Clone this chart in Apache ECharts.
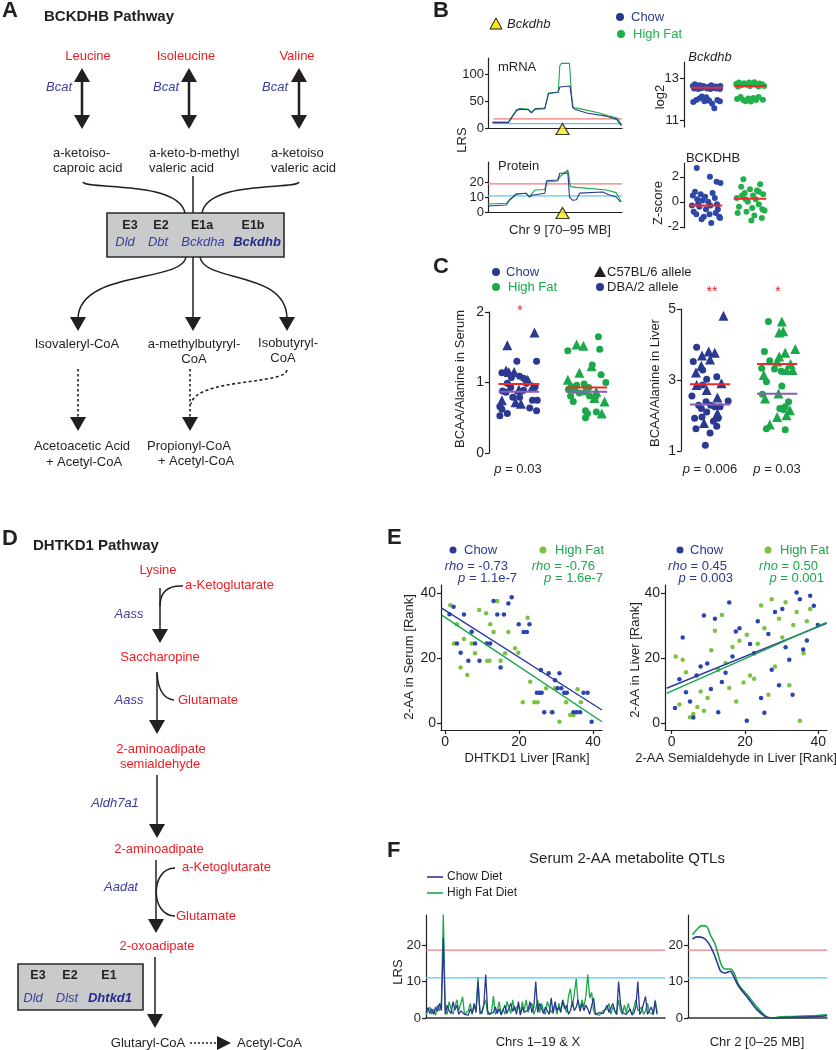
<!DOCTYPE html>
<html><head><meta charset="utf-8">
<script src="https://cdn.jsdelivr.net/npm/echarts@6/dist/echarts.min.js"></script>
<style>html,body{margin:0;padding:0;background:#fff}#c{width:836px;height:1050px}</style>
</head><body><div id="c"></div>
<script>
// ---------------- DATA ----------------
// Panel B: LRS curves on Chr 9 (MB, LRS)
const mrnaChow = [[70.8,10],[73.8,10],[75.3,32],[75.9,35],[77.5,34],[78.1,28],[78.8,35],[80.6,36],[81.3,64],[83.1,67],[83.4,76],[85.3,78],[85.8,38],[86.2,35],[86.5,32],[88.4,28],[92.1,22],[94.0,16],[94.9,4]];
const mrnaHF = [[70.8,11],[73.8,11],[75.3,34],[75.9,36],[77.5,35],[78.1,29],[78.8,36],[80.6,37],[81.3,65],[83.1,66],[83.4,116],[83.7,120],[85.2,120],[85.6,60],[85.9,38],[87.1,36],[90.8,28],[92.7,22],[94.2,18],[94.9,6]];
const mrnaThresholds = [17, 8];           // significant, suggestive
const protChow = [[70,4],[73.4,4.7],[74,8],[75.3,12],[77.1,12.5],[77.7,10],[78.4,11.3],[80.6,12.5],[81,21],[83,21.3],[83.4,25.8],[84.9,26],[85.2,10],[85.8,7.8],[86.5,8.2],[87.1,12.6],[91.4,13.3],[92.4,11.7],[93.9,10],[94.7,6.7]];
const protHF = [[70,5.3],[73.4,5.8],[75.3,12],[77.1,12.5],[77.7,10.2],[78.8,14.7],[80.6,15],[80.9,20],[83,20.6],[83.4,23.5],[84.9,28],[85.4,16.9],[86.5,16.4],[92.1,14.7],[93.9,12.9],[94.9,6.7]];
const protThresholds = [18.7, 10.7];
const bckdhbLocusMB = [83.9];
const groupCenters = [1, 2];              // Chow, High Fat
const log2Chow = [[-0.33,12.62],[-0.28,12.70],[-0.22,12.55],[-0.17,12.65],[-0.12,12.52],[-0.06,12.60],[0.0,12.50],[0.05,12.58],[0.1,12.65],[0.15,12.52],[0.2,12.60],[0.26,12.55],[0.31,12.62],[-0.3,12.5],[-0.2,12.48],[0.08,12.48],[0.22,12.5],[0.3,12.48],[-0.1,12.62],[0.12,12.58],[-0.32,11.86],[-0.25,11.95],[-0.18,12.02],[-0.12,12.12],[-0.06,11.9],[0.0,12.0],[0.05,11.92],[0.12,11.78],[0.17,11.56],[0.24,11.95],[0.3,11.9],[-0.02,12.08]];
const log2HF = [[-0.32,12.72],[-0.26,12.78],[-0.2,12.65],[-0.14,12.75],[-0.08,12.68],[-0.02,12.78],[0.04,12.7],[0.1,12.8],[0.16,12.66],[0.22,12.74],[0.28,12.7],[0.33,12.62],[-0.28,12.6],[0.0,12.62],[0.2,12.6],[-0.3,12.0],[-0.22,12.1],[-0.16,11.95],[-0.1,11.9],[-0.04,12.02],[0.02,11.88],[0.08,12.05],[0.14,11.95],[0.2,12.1],[0.3,11.96]];
const log2Medians = [12.54, 12.62];
const zChow = [[-0.3,0.5],[-0.25,0.8],[-0.2,0.2],[-0.32,-0.3],[-0.28,-0.8],[-0.22,-1.0],[-0.15,-0.4],[-0.12,0.6],[-0.08,0.1],[-0.05,-1.2],[0.0,-0.6],[-0.21,2.7],[0.05,0.0],[0.1,-0.3],[0.12,-1.7],[0.15,0.7],[0.09,2.0],[0.22,-0.9],[0.25,-0.2],[0.24,1.6],[0.3,-1.2],[0.33,1.5],[-0.1,-1.4],[0.2,0.3],[-0.18,-0.2],[0.08,-1.0],[0.27,-0.6],[0.32,-1.3],[-0.02,0.4]];
const zHF = [[-0.3,0.3],[-0.25,-0.4],[-0.2,1.2],[-0.15,1.8],[-0.12,0.7],[-0.08,-0.8],[-0.05,0.0],[0.0,1.0],[0.03,-1.5],[0.07,0.5],[0.1,-1.1],[0.13,0.2],[0.16,0.9],[0.2,-0.2],[0.23,1.4],[0.27,-1.3],[0.3,0.6],[0.33,-0.7],[-0.28,-0.9],[-0.18,0.5],[0.05,-0.5],[0.2,0.8],[0.28,-0.6],[-0.1,0.2]];
const zMedians = [-0.3, 0.25];

// Panel C: BCAA/Alanine ([offset from group centre, value])
const serumChowTri = [[-0.17,1.53],[0.23,1.71],[-0.19,1.17],[-0.07,1.15],[-0.25,0.75],[0.0,0.90],[-0.05,0.72],[0.03,0.70],[0.13,1.04],[0.20,0.94],[-0.15,1.15]];
const serumChowDot = [[-0.03,1.30],[0.26,1.30],[-0.25,1.14],[-0.11,1.07],[0.01,1.09],[0.07,1.06],[-0.17,0.99],[0.11,0.99],[-0.12,0.93],[-0.24,0.88],[-0.19,0.86],[0.07,0.89],[0.20,0.75],[0.27,0.75],[-0.28,0.66],[-0.25,0.62],[-0.17,0.56],[-0.28,0.53],[0.16,0.64],[0.26,0.60],[0.01,0.79],[-0.09,0.79],[0.24,0.94]];
const serumHFTri = [[-0.15,1.54],[-0.05,1.52],[-0.28,1.04],[-0.11,1.14],[0.07,1.23],[0.14,0.87],[0.11,0.78],[0.26,0.73],[0.22,0.56],[-0.03,0.89]];
const serumHFDot = [[-0.28,1.45],[0.17,1.65],[0.19,1.47],[0.08,1.25],[0.21,1.11],[0.28,1.00],[-0.23,0.94],[-0.15,0.96],[-0.04,0.98],[0.03,0.93],[-0.27,0.90],[-0.18,0.89],[-0.11,0.85],[-0.24,0.81],[-0.20,0.73],[0.04,0.81],[0.13,0.80],[-0.02,0.60],[0.01,0.56],[-0.02,0.50],[0.14,0.58]];
const serumRedMedian = [0.98, 0.93];
const serumPurpleMedian = [0.87, 0.87];
const liverChowTri = [[0.20,4.81],[-0.02,3.80],[0.07,3.77],[-0.12,3.69],[0.0,3.58],[-0.13,3.40],[-0.21,3.21],[-0.20,2.86],[-0.05,2.72],[0.11,2.51],[0.17,2.91],[-0.09,1.79],[0.11,2.06]];
const liverChowDot = [[-0.20,3.92],[-0.25,3.52],[-0.11,3.28],[-0.05,3.02],[0.10,3.09],[-0.11,2.86],[-0.27,2.55],[-0.17,2.29],[-0.06,2.39],[0.01,2.29],[0.07,2.25],[0.27,2.41],[-0.13,2.20],[-0.05,2.10],[-0.23,1.92],[-0.12,1.96],[0.05,1.84],[0.12,1.92],[-0.21,1.63],[0.10,1.70],[0.0,1.51],[-0.07,1.16],[0.15,2.25]];
const liverHFTri = [[0.07,4.65],[0.03,4.34],[0.09,4.37],[0.12,3.77],[0.27,3.87],[0.03,3.66],[0.0,3.52],[0.20,3.45],[0.14,3.28],[0.23,3.28],[-0.20,3.14],[0.02,2.62],[-0.18,2.48],[0.14,2.01],[0.0,1.96],[-0.11,1.75],[0.19,2.15]];
const liverHFDot = [[-0.13,4.65],[-0.19,3.80],[-0.11,3.54],[-0.23,3.33],[-0.04,3.31],[0.06,3.25],[-0.16,2.95],[0.07,2.83],[-0.22,2.60],[0.17,2.39],[0.04,2.20],[0.09,2.17],[0.12,2.25],[-0.16,1.63],[0.12,1.60]];
const liverRedMedian = [2.88, 3.45];
const liverPurpleMedian = [2.31, 2.61];

// Panel E: ranks
const eLeftChow = [[1.2,33.5],[2.3,35.8],[5.1,33.4],[3.2,24.5],[4.2,21.6],[6.3,19.2],[7.2,28.1],[8.1,24.5],[9.3,19.2],[11.3,24.5],[12.2,24.5],[13.1,37.6],[14.1,33.4],[15.0,17.1],[15.9,33.4],[17.1,36.8],[18.0,38.7],[19.9,30.4],[21.2,28],[22.1,28],[22.8,30.4],[25.9,16.3],[28.0,15.3],[29.7,13.2],[30.9,15.3],[32.2,9.3],[32.9,9.3],[24.8,9.3],[25.5,9.3],[26.1,9.3],[26.8,3.3],[29.0,3.3],[30.4,10.7],[31.4,10.7],[34.7,3.3],[35.6,3.3],[36.5,3.3],[37.4,9.3],[38.5,9.3],[39.6,0.4]];
const eLeftHF = [[1.4,36.3],[2.4,24.5],[3.2,30.4],[4.2,17.1],[5.1,25.9],[6.0,14.8],[7.2,24.5],[8.1,21.5],[9.2,34.8],[11.1,33.8],[11.4,19.2],[12.0,19.2],[12.2,30.4],[13.1,28],[14.1,37.6],[15.0,19.2],[16.2,21.5],[17.1,28],[18.9,23],[19.8,21.6],[22.3,32.4],[23.0,12.7],[21.0,6.4],[24.1,6.4],[25.0,6.4],[27.3,10.7],[28.8,3.3],[29.7,10.7],[30.9,0.4],[32.7,6.4],[33.8,2.5],[34.7,2.5],[35.8,10.4],[36.7,6.4]];
const eLeftChowFit = [[-0.9,35.4],[42.4,4.0]];
const eLeftHFFit = [[-0.9,33.2],[42.4,0.4]];
const eRightChow = [[0.9,4.6],[2.1,13.5],[3.0,26.3],[3.9,9.5],[5.0,6.6],[5.9,1.7],[6.8,14.6],[7.9,17.4],[8.8,33.1],[9.7,18.3],[10.7,10.5],[11.8,32.1],[12.7,3.3],[13.7,12.6],[14.7,15.5],[15.7,37.1],[16.6,20.5],[17.5,28.2],[18.5,29.2],[20.5,0.7],[21.4,24.3],[22.5,21.5],[23.5,31.3],[24.4,7.7],[25.3,3.2],[26.4,27.4],[27.3,16.4],[28.2,34.2],[29.3,11.6],[30.2,35.1],[31.1,23.3],[32.1,19.5],[33.0,8.7],[34.1,40.2],[35.0,38.1],[35.9,22.6],[36.9,25.4],[37.8,39.2],[38.8,36.1],[39.9,30.2]];
const eRightHF = [[1.1,20.5],[2.1,5.7],[3.0,19.5],[3.9,15.6],[5.0,1.8],[5.9,2.8],[7.0,4.9],[7.9,9.7],[8.8,3.8],[9.8,7.7],[10.8,22.4],[11.8,28.4],[12.7,16.4],[13.7,33.3],[14.7,18.5],[15.7,10.8],[16.6,23.4],[17.6,6.6],[18.5,25.3],[19.6,12.5],[20.5,27.2],[21.4,14.6],[22.5,13.6],[23.5,24.4],[24.4,36.2],[25.3,29.2],[26.4,8.7],[27.3,38.1],[28.2,17.4],[29.3,32.1],[30.2,26.3],[31.1,37.2],[32.1,11.6],[33.2,30.2],[34.1,34.2],[35.0,0.7],[36.0,21.5],[36.9,31.3],[37.8,35.1]];
const eRightChowFit = [[-1.4,10.7],[42.3,30.7]];
const eRightHFFit = [[-1.4,9.1],[42.3,31.0]];

// Panel F: genome-wide LRS (marker index along Chrs 1-19 & X) and Chr 2 (MB)
const genomeChow = [1.5,2.8,1.2,2.5,1.0,3.0,1.8,4.0,2.0,21.9,1.0,3.5,2.0,1.2,4.5,2.2,3.5,1.0,2.0,1.5,1.0,1.3,0.8,2.5,1.2,4.0,1.5,10.0,1.8,1.2,3.5,11.9,2.0,1.0,0.8,1.5,3.0,1.2,2.5,0.8,1.0,3.5,1.2,1.0,4.0,1.8,3.2,1.0,4.5,0.8,3.0,1.5,1.0,2.2,4.5,1.5,3.0,10.0,1.5,4.0,3.5,1.2,3.0,2.0,1.0,5.5,1.2,4.5,2.0,3.0,1.5,4.8,2.5,3.5,1.0,2.0,4.5,2.0,3.0,5.0,1.8,4.0,2.0,3.5,2.5,1.0,0.8,5.5,1.0,0.8,1.5,1.0,1.2,0.8,3.5,1.5,1.0,4.0,2.0,1.0,10.0,4.0,1.5,2.0,1.0,1.2,2.5,0.8,1.5,3.0,10.0,1.0,2.0,1.5,5.9,1.0,2.0,3.0,1.0,4.5,1.0];
const genomeHF = [0.8,2.0,3.0,1.0,2.5,0.8,3.5,2.0,4.5,28.3,2.0,1.0,4.5,2.5,1.0,3.0,5.0,2.0,1.5,5.8,1.0,0.8,2.0,4.0,1.0,3.5,2.0,11.2,1.0,2.0,1.5,5.0,1.0,0.5,1.5,6.0,1.0,2.0,4.5,1.0,2.5,1.0,4.5,3.0,1.2,5.0,2.0,1.5,3.5,1.0,4.5,2.0,5.0,1.5,3.0,4.0,1.0,2.5,5.0,1.5,4.0,2.0,1.0,4.5,3.0,1.5,2.0,3.5,1.0,4.0,2.0,5.0,3.0,1.5,6.0,8.0,3.0,6.5,10.7,4.0,2.5,5.0,3.0,6.0,11.9,5.5,7.0,2.0,1.0,1.5,0.8,1.0,2.0,1.5,2.5,4.0,1.0,3.0,2.5,1.0,5.0,2.0,1.0,3.5,1.5,4.0,2.0,1.0,3.0,5.0,2.0,1.5,3.0,1.0,2.0,4.0,1.5,2.0,1.0,5.0,1.5];
const chr2Chow = [[0.8,21.6],[1.6,22.2],[2.8,21.9],[3.7,20.5],[4.6,17.8],[5.3,15],[5.9,12.8],[6.7,12.3],[7.6,12.8],[8.2,11.4],[9.1,8.7],[10.6,5.8],[12.4,2.3],[14.2,0.2],[15.4,0],[19,0.2],[22,0.3],[25,0.6]];
const chr2HF = [[0.8,22.8],[1.9,24.7],[2.5,25.3],[3.4,25.0],[4.0,22.8],[4.9,20.1],[5.5,16.9],[6.1,14.2],[6.7,13.4],[7.6,13.4],[8.3,12.3],[9.1,9.1],[10.6,6.4],[12.4,3.0],[13.9,0.6],[14.8,0],[16.6,0.3],[19,0.4],[22,0.6],[25,0.9]];
const fThresholds = [18.6, 11.0];

// ---------------- STYLE ----------------
const FONT = '"Liberation Sans", Arial, Helvetica, sans-serif';
const INK = '#231f20';
const BLUE = '#2b3990', BLUE_DOT = '#2e46a6', GREEN = '#1aa84b', LGREEN = '#7cc242';
const RED = '#ee2b2b', PURPLE = '#8d5bb8', THR_RED = '#f07b7b', THR_BLUE = '#5cc8f0';
const TXT_RED = '#ed1c24', ENZ = '#3a3f9c';

function ax(grid, min, max, o) {
  o = o || {};
  return {
    gridIndex: grid, type: 'value', min: min, max: max, show: o.show !== false,
    axisLine: {show: true, onZero: false, lineStyle: {color: o.lineColor || INK, width: o.lw || 1.2}},
    axisTick: o.ticks ? {show: true, length: o.tickLen || 4, customValues: o.ticks, lineStyle: {color: INK, width: 1.2}} : {show: false},
    axisLabel: o.ticks ? {show: true, customValues: o.ticks, fontSize: o.fs || 13, fontFamily: FONT, color: INK, margin: o.margin || 6} : {show: false},
    splitLine: {show: false}
  };
}

const grids = [
  {left: 488, top: 58, width: 134, height: 70},   // 0 mRNA
  {left: 488, top: 162, width: 134, height: 50},  // 1 protein
  {left: 684, top: 62, width: 86, height: 65},    // 2 log2
  {left: 684, top: 163, width: 86, height: 65},   // 3 z-score
  {left: 489, top: 312, width: 125, height: 141}, // 4 serum
  {left: 681, top: 309, width: 125, height: 142}, // 5 liver
  {left: 441, top: 585, width: 161, height: 145}, // 6 E left
  {left: 665, top: 585, width: 162, height: 145}, // 7 E right
  {left: 426, top: 915, width: 239, height: 103}, // 8 F genome
  {left: 688, top: 915, width: 139, height: 103}  // 9 F chr2
];
const xAxes = [
  ax(0, 70, 95), ax(1, 70, 95),
  ax(2, 0.465, 2.465, {show: false}), ax(3, 0.5, 2.455, {show: false}),
  ax(4, 0.56, 2.4, {show: false}), ax(5, 0.567, 2.43, {show: false}),
  ax(6, -1.1, 42.4, {ticks: [0, 20, 40], fs: 14, margin: 5}),
  ax(7, -1.83, 42.4, {ticks: [0, 20, 40], fs: 14, margin: 5}),
  ax(8, 0, 124.1, {lw: 1.6, lineColor: '#333'}), ax(9, 0, 25, {lw: 1.6, lineColor: '#333'})
];
const yAxes = [
  ax(0, 0, 130, {ticks: [0, 50, 100], tickLen: 3, margin: 4}),
  ax(1, 0, 33.3, {ticks: [0, 10, 20], tickLen: 3, margin: 4}),
  ax(2, 10.67, 13.76, {ticks: [11, 13], tickLen: 4, margin: 5}),
  ax(3, -2.1, 3.1, {ticks: [-2, 0, 2], tickLen: 4, margin: 5}),
  ax(4, 0, 2, {ticks: [0, 1, 2], fs: 14, margin: 5}),
  ax(5, 1, 5, {ticks: [1, 3, 5], fs: 14, margin: 5}),
  ax(6, -2.15, 42.5, {ticks: [0, 20, 40], fs: 14, margin: 5}),
  ax(7, -2.15, 42.5, {ticks: [0, 20, 40], fs: 14, margin: 5}),
  ax(8, 0, 28.2, {ticks: [0, 10, 20], margin: 5}),
  ax(9, 0, 28.2, {ticks: [0, 10, 20], margin: 5})
];

const series = [];
function line(gi, data, color, width, extra) {
  series.push(Object.assign({type: 'line', xAxisIndex: gi, yAxisIndex: gi, data: data, symbol: 'none',
    lineStyle: {color: color, width: width}, z: 3, silent: true}, extra || {}));
}
function hline(gi, x0, x1, y, color, width, z) {
  line(gi, [[x0, y], [x1, y]], color, width, {z: z || 2});
}
function scat(gi, data, color, symbol, size, z) {
  series.push({type: 'scatter', xAxisIndex: gi, yAxisIndex: gi, data: data, symbol: symbol, symbolSize: size,
    itemStyle: {color: color, opacity: 1}, z: z || 4, silent: true});
}
function strip(arr, ci) { return arr.map(d => [groupCenters[ci] + d[0], d[1]]); }

// B: LRS panels
hline(0, 71, 95, mrnaThresholds[0], THR_RED, 1.2);
hline(0, 71, 95, mrnaThresholds[1], THR_BLUE, 1.2);
line(0, mrnaHF, GREEN, 1.1);
line(0, mrnaChow, BLUE, 1.1);
hline(1, 70, 95, protThresholds[0], THR_RED, 1.2);
hline(1, 70, 95, protThresholds[1], THR_BLUE, 1.2);
line(1, protHF, GREEN, 1.1);
line(1, protChow, BLUE, 1.1);
[0, 1].forEach(gi => series.push({type: 'scatter', xAxisIndex: gi, yAxisIndex: gi, data: bckdhbLocusMB.map(m => [m, 0]),
  symbol: 'triangle', symbolSize: [13, 11], symbolOffset: [0, 1], z: 6, silent: true,
  itemStyle: {color: '#f7e81c', borderColor: '#111', borderWidth: 1.2}}));
// B: expression strips
scat(2, strip(log2Chow, 0), BLUE_DOT, 'circle', 6);
scat(2, strip(log2HF, 1), '#22b04b', 'circle', 6);
log2Medians.forEach((m, i) => hline(2, groupCenters[i] - 0.37, groupCenters[i] + 0.37, m, RED, 2, 5));
scat(3, strip(zChow, 0), BLUE_DOT, 'circle', 6);
scat(3, strip(zHF, 1), '#22b04b', 'circle', 6);
zMedians.forEach((m, i) => hline(3, groupCenters[i] - 0.37, groupCenters[i] + 0.37, m, RED, 2, 5));
// C
scat(4, strip(serumChowDot, 0), BLUE, 'circle', 7);
scat(4, strip(serumChowTri, 0), BLUE, 'triangle', 10);
scat(4, strip(serumHFDot, 1), GREEN, 'circle', 7);
scat(4, strip(serumHFTri, 1), GREEN, 'triangle', 10);
serumPurpleMedian.forEach((m, i) => hline(4, groupCenters[i] - 0.3, groupCenters[i] + 0.3, m, PURPLE, 2, 5));
serumRedMedian.forEach((m, i) => hline(4, groupCenters[i] - 0.3, groupCenters[i] + 0.3, m, RED, 2, 5));
scat(5, strip(liverChowDot, 0), BLUE, 'circle', 7);
scat(5, strip(liverChowTri, 0), BLUE, 'triangle', 10);
scat(5, strip(liverHFDot, 1), GREEN, 'circle', 7);
scat(5, strip(liverHFTri, 1), GREEN, 'triangle', 10);
liverPurpleMedian.forEach((m, i) => hline(5, groupCenters[i] - 0.3, groupCenters[i] + 0.3, m, PURPLE, 2, 5));
liverRedMedian.forEach((m, i) => hline(5, groupCenters[i] - 0.3, groupCenters[i] + 0.3, m, RED, 2, 5));
// E
scat(6, eLeftHF, LGREEN, 'circle', 4.5);
scat(6, eLeftChow, '#2a44b0', 'circle', 4.5);
line(6, eLeftChowFit, '#2b3aa0', 1.4, {z: 5});
line(6, eLeftHFFit, '#13a44a', 1.4, {z: 5});
scat(7, eRightHF, LGREEN, 'circle', 4.5);
scat(7, eRightChow, '#2a44b0', 'circle', 4.5);
line(7, eRightChowFit, '#2b3aa0', 1.4, {z: 5});
line(7, eRightHFFit, '#13a44a', 1.4, {z: 5});
// F
hline(8, 0, 124.1, fThresholds[0], THR_RED, 1.2);
hline(8, 0, 124.1, fThresholds[1], THR_BLUE, 1.2);
line(8, genomeHF.map((v, i) => [i, v]), GREEN, 1.3);
line(8, genomeChow.map((v, i) => [i, v]), BLUE, 1.3, {z: 4});
hline(9, 0, 25, fThresholds[0], THR_RED, 1.2);
hline(9, 0, 25, fThresholds[1], THR_BLUE, 1.2);
line(9, chr2HF, GREEN, 1.6, {smooth: 0.35});
line(9, chr2Chow, BLUE, 1.6, {smooth: 0.35, z: 4});

// ---------------- GRAPHIC (pathways, labels, legends) ----------------
const G = [];
function T(x, y, text, o) {
  o = o || {};
  const fs = o.size || 13;
  const st = {text: text, fill: o.color || INK, fontSize: fs, fontFamily: FONT,
    fontWeight: o.bold ? 'bold' : 'normal', fontStyle: o.italic ? 'italic' : 'normal',
    align: o.align || 'left', verticalAlign: 'middle'};
  if (o.rich) st.rich = o.rich;
  G.push({type: 'text', x: x, y: y, rotation: o.rot || 0, z: 20, silent: true, style: st});
}
function L(x1, y1, x2, y2, o) {
  o = o || {};
  G.push({type: 'line', z: 15, silent: true, shape: {x1, y1, x2, y2},
    style: {stroke: o.color || INK, lineWidth: o.w || 1.5, lineDash: o.dash || null}});
}
function B(x1, y1, c1x, c1y, c2x, c2y, x2, y2, o) {
  o = o || {};
  G.push({type: 'bezierCurve', z: 15, silent: true,
    shape: {x1, y1, cpx1: c1x, cpy1: c1y, cpx2: c2x, cpy2: c2y, x2, y2},
    style: {stroke: o.color || INK, lineWidth: o.w || 1.5, fill: null, lineDash: o.dash || null}});
}
function P(points, fill, stroke) {
  G.push({type: 'polygon', z: 16, silent: true, shape: {points: points},
    style: {fill: fill || INK, stroke: stroke || null, lineWidth: stroke ? 1 : 0}});
}
function down(x, tip, hw, h) { hw = hw || 8; h = h || 14; P([[x - hw, tip - h], [x + hw, tip - h], [x, tip]]); }
function up(x, tip, hw, h) { hw = hw || 8; h = h || 14; P([[x - hw, tip + h], [x + hw, tip + h], [x, tip]]); }
function R(x, y, w, h) {
  G.push({type: 'rect', z: 12, silent: true, shape: {x, y, width: w, height: h},
    style: {fill: '#c9cacc', stroke: '#2a2a2a', lineWidth: 1.6}});
}
function C(cx, cy, r, fill) { G.push({type: 'circle', z: 20, silent: true, shape: {cx, cy, r}, style: {fill}}); }
function rich(color, size) {
  return {i: {fontStyle: 'italic', fontSize: size || 13, fontFamily: FONT, fill: color},
          n: {fontStyle: 'normal', fontSize: size || 13, fontFamily: FONT, fill: color}};
}

// Panel letters
[['A', 2, 11], ['B', 433, 11], ['C', 433, 267], ['D', 2, 539], ['E', 387, 538], ['F', 387, 851]]
  .forEach(d => T(d[1], d[2], d[0], {bold: true, size: 22}));

// ---- Panel A ----
T(44, 17, 'BCKDHB Pathway', {bold: true, size: 15});
[['Leucine', 88, 82, 59], ['Isoleucine', 186, 189, 166], ['Valine', 297, 299, 275]].forEach(d => {
  T(d[1], 56, d[0], {color: TXT_RED, align: 'center'});
  L(d[2], 78, d[2], 118, {w: 2.5});
  up(d[2], 68); down(d[2], 129);
  T(d[3], 87, 'Bcat', {color: ENZ, italic: true, align: 'center'});
});
T(53, 153, 'a-ketoiso-'); T(53, 168, 'caproic acid');
T(149, 153, 'a-keto-b-methyl'); T(149, 168, 'valeric acid');
T(271, 153, 'a-ketoiso'); T(271, 168, 'valeric acid');
B(83, 182, 85, 190, 178, 180, 185, 213);
L(193, 176, 193, 213);
B(299, 182, 297, 190, 208, 180, 202, 213);
R(107, 213, 177, 44);
T(130, 226, 'E3', {bold: true, align: 'center', size: 12.5});
T(161, 226, 'E2', {bold: true, align: 'center', size: 12.5});
T(202, 226, 'E1a', {bold: true, align: 'center', size: 12.5});
T(253, 226, 'E1b', {bold: true, align: 'center', size: 12.5});
T(125, 242, 'Dld', {italic: true, color: ENZ, align: 'center'});
T(158, 242, 'Dbt', {italic: true, color: ENZ, align: 'center'});
T(203, 242, 'Bckdha', {italic: true, color: ENZ, align: 'center'});
T(257, 242, 'Bckdhb', {italic: true, bold: true, color: '#26298a', align: 'center'});
B(186, 257, 182, 283, 80, 270, 78, 318);
L(193, 257, 193, 318);
B(200, 257, 204, 283, 286, 270, 287, 318);
down(78, 331); down(193, 331); down(287, 331);
T(77, 344, 'Isovaleryl-CoA', {align: 'center'});
T(194, 344, 'a-methylbutyryl-', {align: 'center'});
T(194, 359, 'CoA', {align: 'center'});
T(288, 343, 'Isobutyryl-', {align: 'center'});
T(283, 358, 'CoA', {align: 'center'});
L(78, 369, 78, 418, {dash: [2.5, 2.5], w: 1.6});
L(190, 369, 190, 418, {dash: [2.5, 2.5], w: 1.6});
B(287, 370, 285, 385, 196, 378, 191, 404, {dash: [3, 2.5], w: 1.6});
down(78, 431); down(190, 431);
T(82, 446, 'Acetoacetic Acid', {align: 'center'});
T(84, 462, '+ Acetyl-CoA', {align: 'center'});
T(189, 446, 'Propionyl-CoA', {align: 'center'});
T(196, 461, '+ Acetyl-CoA', {align: 'center'});

// ---- Panel D ----
T(33, 546, 'DHTKD1 Pathway', {bold: true, size: 15});
T(158, 570, 'Lysine', {color: TXT_RED, align: 'center'});
T(185, 585, 'a-Ketoglutarate', {color: TXT_RED});
L(160, 588, 160, 630); down(160, 643);
B(183, 586, 168, 585, 160, 592, 160, 606);
T(129, 614, 'Aass', {color: ENZ, italic: true, align: 'center'});
T(160, 657, 'Saccharopine', {color: TXT_RED, align: 'center'});
L(157, 672, 157, 722); down(157, 734);
B(157, 673, 158, 690, 164, 699, 174, 700);
T(178, 700, 'Glutamate', {color: TXT_RED});
T(129, 700, 'Aass', {color: ENZ, italic: true, align: 'center'});
T(161, 749, '2-aminoadipate', {color: TXT_RED, align: 'center'});
T(160, 764, 'semialdehyde', {color: TXT_RED, align: 'center'});
L(157, 775, 157, 825); down(157, 838);
T(115, 803, 'Aldh7a1', {color: ENZ, italic: true, align: 'center'});
T(159, 849, '2-aminoadipate', {color: TXT_RED, align: 'center'});
L(156, 860, 156, 920); down(156, 933);
B(175, 868, 150, 868, 150, 916, 175, 916);
T(182, 867, 'a-Ketoglutarate', {color: TXT_RED});
T(176, 916, 'Glutamate', {color: TXT_RED});
T(121, 887, 'Aadat', {color: ENZ, italic: true, align: 'center'});
T(157, 946, '2-oxoadipate', {color: TXT_RED, align: 'center'});
L(155, 957, 155, 1016); down(155, 1028);
R(18, 964, 125, 46);
T(38, 976, 'E3', {bold: true, align: 'center', size: 12.5});
T(70, 976, 'E2', {bold: true, align: 'center', size: 12.5});
T(109, 976, 'E1', {bold: true, align: 'center', size: 12.5});
T(33, 998, 'Dld', {italic: true, color: ENZ, align: 'center'});
T(67, 998, 'Dlst', {italic: true, color: ENZ, align: 'center'});
T(110, 998, 'Dhtkd1', {italic: true, bold: true, color: '#26298a', align: 'center'});
T(148, 1043, 'Glutaryl-CoA', {align: 'center'});
L(190, 1043, 217, 1043, {dash: [2, 2], w: 1.5});
P([[217, 1036], [217, 1050], [231, 1043]]);
T(237, 1043, 'Acetyl-CoA');

// ---- Panel B labels ----
P([[490, 29], [502, 29], [496, 18]], '#f7e81c', '#111');
T(507, 24, 'Bckdhb', {italic: true});
C(620, 17, 4, BLUE); T(631, 17, 'Chow', {color: BLUE});
C(621, 34, 4, '#22b04b'); T(633, 34, 'High Fat', {color: '#22b04b'});
T(498, 67, 'mRNA'); T(498, 166, 'Protein');
T(462, 140, 'LRS', {align: 'center', rot: Math.PI / 2});
T(560, 230, 'Chr 9 [70\u201395 MB]', {align: 'center'});
T(710, 57, 'Bckdhb', {italic: true, align: 'center'});
T(660, 97, 'log2', {align: 'center', rot: Math.PI / 2});
T(713, 158, 'BCKDHB', {align: 'center'});
T(658, 203, 'Z-score', {align: 'center', rot: Math.PI / 2});

// ---- Panel C labels ----
C(496, 272, 4, BLUE); T(506, 272, 'Chow', {color: BLUE});
C(496, 287, 4, GREEN); T(508, 287, 'High Fat', {color: GREEN});
P([[594, 277], [606, 277], [600, 266]]); T(607, 272, 'C57BL/6 allele');
C(600, 287, 4, BLUE); T(607, 287, 'DBA/2 allele');
T(460, 379, 'BCAA/Alanine in Serum', {align: 'center', rot: Math.PI / 2});
T(655, 383, 'BCAA/Alanine in Liver', {align: 'center', rot: Math.PI / 2});
T(520, 311, '*', {color: TXT_RED, align: 'center', size: 14});
T(712, 292, '**', {color: TXT_RED, align: 'center', size: 14});
T(778, 292, '*', {color: TXT_RED, align: 'center', size: 14});
T(518, 469, '{i|p}{n| = 0.03}', {align: 'center', rich: rich(INK)});
T(710, 469, '{i|p}{n| = 0.006}', {align: 'center', rich: rich(INK)});
T(777, 469, '{i|p}{n| = 0.03}', {align: 'center', rich: rich(INK)});

// ---- Panel E labels ----
C(453, 550, 3.5, BLUE); T(464, 550, 'Chow', {color: BLUE});
C(543, 550, 3.5, LGREEN); T(555, 550, 'High Fat', {color: GREEN});
C(680, 550, 3.5, BLUE); T(690, 550, 'Chow', {color: BLUE});
C(768, 550, 3.5, LGREEN); T(780, 550, 'High Fat', {color: GREEN});
T(508, 566, '{i|rho}{n| = -0.73}', {align: 'right', rich: rich(BLUE)});
T(517, 578, '{i|p}{n| = 1.1e-7}', {align: 'right', rich: rich(BLUE)});
T(595, 566, '{i|rho}{n| = -0.76}', {align: 'right', rich: rich(GREEN)});
T(603, 578, '{i|p}{n| = 1.6e-7}', {align: 'right', rich: rich(GREEN)});
T(727, 566, '{i|rho}{n| = 0.45}', {align: 'right', rich: rich(BLUE)});
T(733, 578, '{i|p}{n| = 0.003}', {align: 'right', rich: rich(BLUE)});
T(818, 566, '{i|rho}{n| = 0.50}', {align: 'right', rich: rich(GREEN)});
T(824, 578, '{i|p}{n| = 0.001}', {align: 'right', rich: rich(GREEN)});
T(409, 657, '2-AA in Serum [Rank]', {align: 'center', rot: Math.PI / 2});
T(635, 660, '2-AA in Liver [Rank]', {align: 'center', rot: Math.PI / 2});
T(527, 758, 'DHTKD1 Liver [Rank]', {align: 'center'});
T(736, 758, '2-AA Semialdehyde in Liver [Rank]', {align: 'center'});

// ---- Panel F labels ----
T(627, 859, 'Serum 2-AA metabolite QTLs', {align: 'center', size: 15});
L(427, 877, 443, 877, {color: BLUE, w: 1.6}); T(447, 877, 'Chow Diet', {size: 12});
L(427, 893, 443, 893, {color: GREEN, w: 1.6}); T(447, 893, 'High Fat Diet', {size: 12});
T(398, 972, 'LRS', {align: 'center', rot: Math.PI / 2});
T(538, 1042, 'Chrs 1\u201319 & X', {align: 'center'});
T(757, 1042, 'Chr 2 [0\u201325 MB]', {align: 'center'});

const chart = echarts.init(document.getElementById('c'), null, {renderer: 'canvas'});
chart.setOption({
  animation: false,
  backgroundColor: '#ffffff',
  textStyle: {fontFamily: FONT},
  grid: grids, xAxis: xAxes, yAxis: yAxes, series: series, graphic: G
});
</script></body></html>
